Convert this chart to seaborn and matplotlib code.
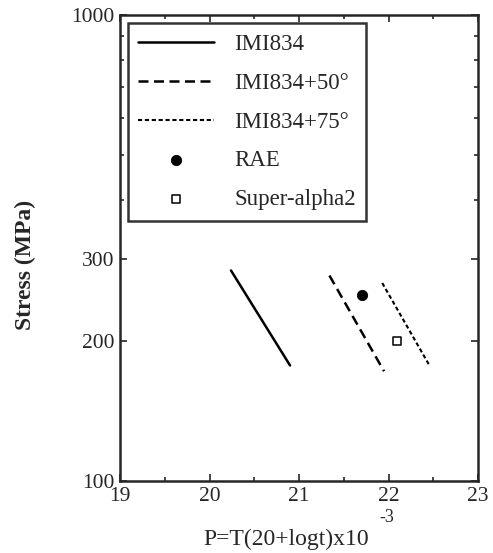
import numpy as np
import pandas as pd
import matplotlib.pyplot as plt
import seaborn as sns
from matplotlib.ticker import NullFormatter

# values
imi834_p = [20.24, 20.90]
imi834_s = [283, 177]
imi834_50_p = [21.34, 21.95]
imi834_50_s = [276, 172]
imi834_75_p = [21.93, 22.45]
imi834_75_s = [266, 178]
rae_p = [21.70]
rae_s = [251]
superalpha_p = [22.10]
superalpha_s = [200]

sns.set_style("ticks")
plt.rcParams['font.family'] = ['Liberation Serif', 'DejaVu Serif']

fig = plt.figure(figsize=(4.93, 5.53), dpi=100)
ax = fig.add_axes([120 / 493, 1 - 481 / 553, 358 / 493, 466 / 553])

lines = pd.DataFrame({
    'P': imi834_p + imi834_50_p + imi834_75_p,
    'S': imi834_s + imi834_50_s + imi834_75_s,
    'alloy': ['IMI834'] * 2 + ['IMI834+50°'] * 2 + ['IMI834+75°'] * 2,
})
styles = {'IMI834': '-', 'IMI834+50°': (0, (4, 2.2)), 'IMI834+75°': (0, (2, 1.3))}
widths = {'IMI834': 1.8, 'IMI834+50°': 1.8, 'IMI834+75°': 1.5}
for name, grp in lines.groupby('alloy', sort=False):
    sns.lineplot(data=grp, x='P', y='S', ax=ax, color='black', label=name,
                 linestyle=styles[name], linewidth=widths[name])

sns.scatterplot(x=rae_p, y=rae_s, ax=ax, color='black', marker='o', s=55,
                edgecolor='black', label='RAE')
sns.scatterplot(x=superalpha_p, y=superalpha_s, ax=ax, facecolor='white', marker='s', s=35,
                edgecolor='black', linewidth=1.1, label='Super-alpha2')

ax.set_yscale('log')
ax.set_xlim(19, 23)
ax.set_ylim(100, 1000)
ax.set_xticks([19, 20, 21, 22, 23])
ax.set_xticks(np.arange(19, 23, 0.5), minor=True)
ax.set_yticks([100, 200, 300, 1000])
ax.set_yticklabels(['100', '200', '300', '1000'])
ax.yaxis.set_minor_formatter(NullFormatter())
ax.tick_params(direction='in', which='both', top=True, right=True, labelsize=15.5, width=1.2)
ax.tick_params(which='major', length=5, pad=4)
ax.tick_params(which='minor', length=3)
for sp in ax.spines.values():
    sp.set_linewidth(1.8)

# x label with the exponent drawn on its own, raised like in the original
ax.set_xlabel('P=T(20+logt)x10', fontsize=17)
ax.xaxis.set_label_coords(0.465, -0.102)
ax.text(0.745, -0.078, '-3', transform=ax.transAxes, fontsize=13, va='center', ha='center')
ax.set_ylabel('Stress (MPa)', fontsize=17, fontweight='bold')
ax.yaxis.set_label_coords(-0.235, 0.463)

leg = ax.legend(loc='upper left', bbox_to_anchor=(0.022, 0.982), fontsize=16.5,
                handlelength=3.3, frameon=True, fancybox=False, edgecolor='black',
                borderpad=0.45, borderaxespad=0, labelspacing=0.78, handletextpad=0.9)
leg.get_frame().set_linewidth(1.8)

fig.savefig('out.png', dpi=100)
